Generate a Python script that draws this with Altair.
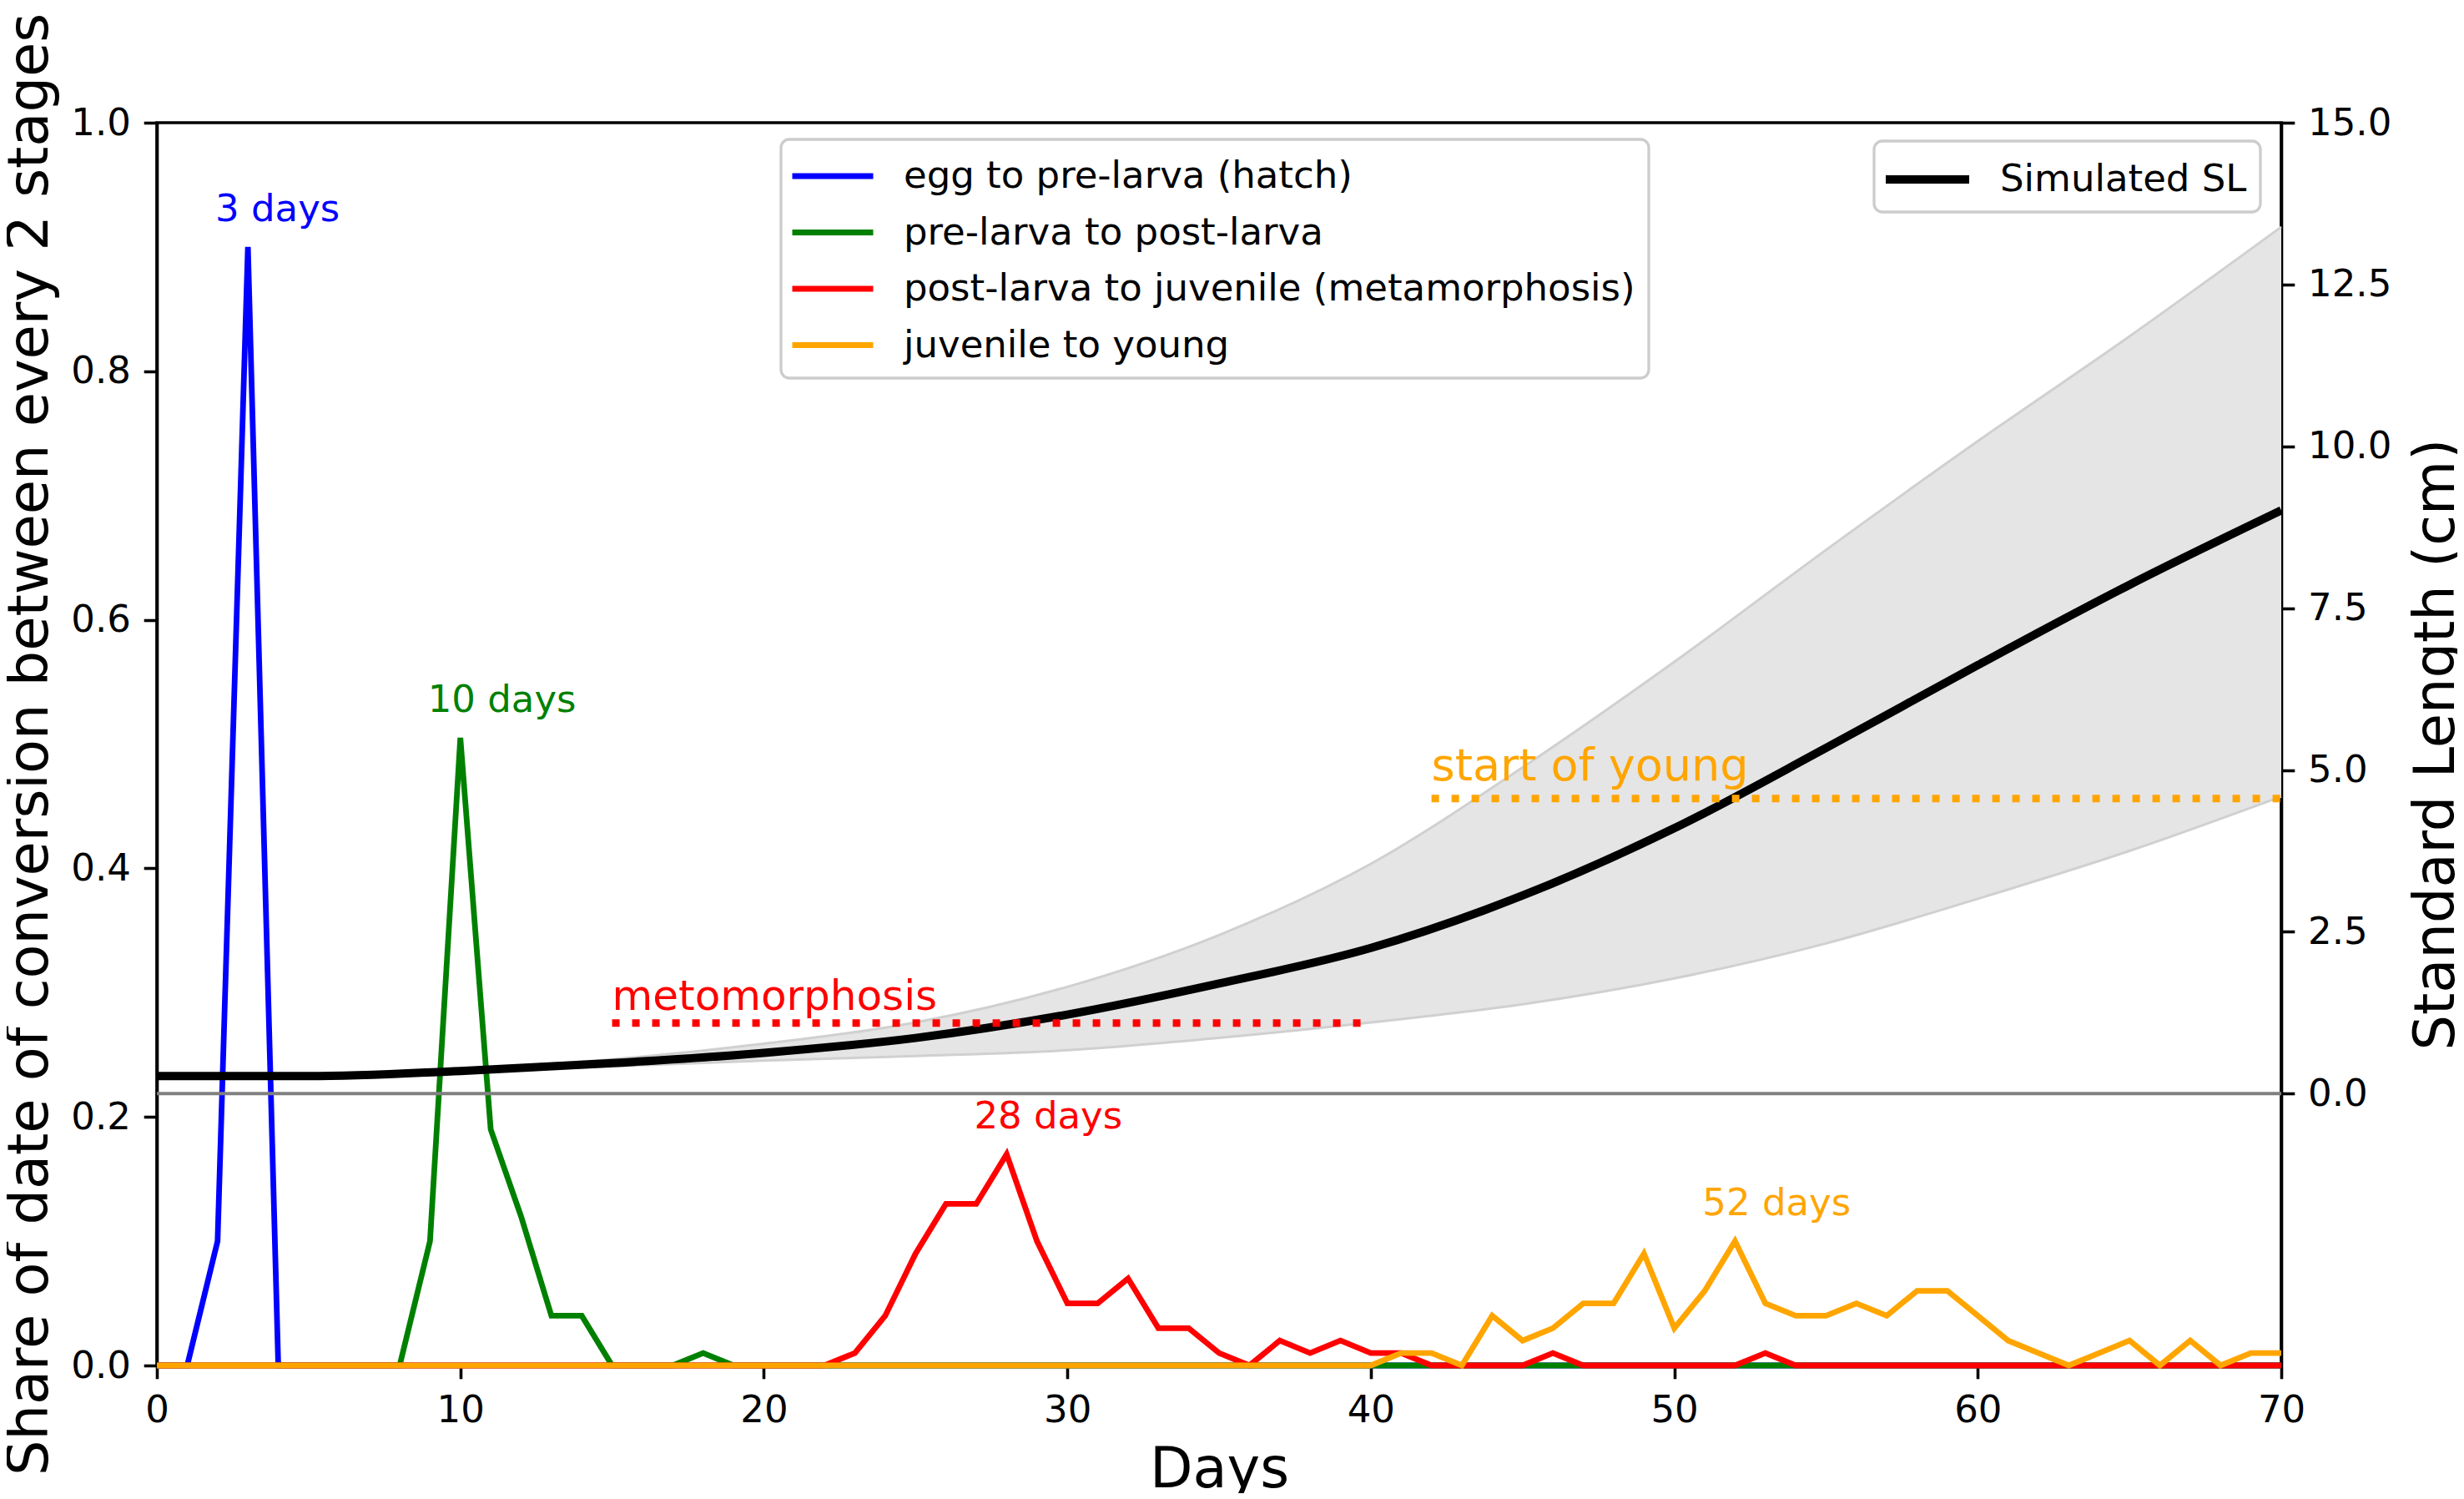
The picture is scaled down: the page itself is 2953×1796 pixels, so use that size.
import altair as alt
import pandas as pd

# ---------------- data ----------------
days = list(range(71))

egg_to_prelarva = [
    0, 0, 0.10, 0.90, 0, 0, 0, 0, 0, 0,
    0, 0, 0, 0, 0, 0, 0, 0, 0, 0,
    0, 0, 0, 0, 0, 0, 0, 0, 0, 0,
    0, 0, 0, 0, 0, 0, 0, 0, 0, 0,
    0, 0, 0, 0, 0, 0, 0, 0, 0, 0,
    0, 0, 0, 0, 0, 0, 0, 0, 0, 0,
    0, 0, 0, 0, 0, 0, 0, 0, 0, 0,
    0]
prelarva_to_postlarva = [
    0, 0, 0, 0, 0, 0, 0, 0, 0, 0.10,
    0.505, 0.19, 0.12, 0.04, 0.04, 0, 0, 0, 0.01, 0,
    0, 0, 0, 0, 0, 0, 0, 0, 0, 0,
    0, 0, 0, 0, 0, 0, 0, 0, 0, 0,
    0, 0, 0, 0, 0, 0, 0, 0, 0, 0,
    0, 0, 0, 0, 0, 0, 0, 0, 0, 0,
    0, 0, 0, 0, 0, 0, 0, 0, 0, 0,
    0]
postlarva_to_juvenile = [
    0, 0, 0, 0, 0, 0, 0, 0, 0, 0,
    0, 0, 0, 0, 0, 0, 0, 0, 0, 0,
    0, 0, 0, 0.01, 0.04, 0.09, 0.13, 0.13, 0.17, 0.10,
    0.05, 0.05, 0.07, 0.03, 0.03, 0.01, 0, 0.02, 0.01, 0.02,
    0.01, 0.01, 0, 0, 0, 0, 0.01, 0, 0, 0,
    0, 0, 0, 0.01, 0, 0, 0, 0, 0, 0,
    0, 0, 0, 0, 0, 0, 0, 0, 0, 0,
    0]
juvenile_to_young = [
    0, 0, 0, 0, 0, 0, 0, 0, 0, 0,
    0, 0, 0, 0, 0, 0, 0, 0, 0, 0,
    0, 0, 0, 0, 0, 0, 0, 0, 0, 0,
    0, 0, 0, 0, 0, 0, 0, 0, 0, 0,
    0, 0.01, 0.01, 0, 0.04, 0.02, 0.03, 0.05, 0.05, 0.09,
    0.03, 0.06, 0.10, 0.05, 0.04, 0.04, 0.05, 0.04, 0.06, 0.06,
    0.04, 0.02, 0.01, 0, 0.01, 0.02, 0, 0.02, 0, 0.01,
    0.01]

stage_names = ["egg to pre-larva (hatch)", "pre-larva to post-larva",
               "post-larva to juvenile (metamorphosis)", "juvenile to young"]
stage_colors = ["#0000ff", "#008000", "#ff0000", "#ffa500"]
stage_series = [egg_to_prelarva, prelarva_to_postlarva,
                postlarva_to_juvenile, juvenile_to_young]

peak_days = [3, 10, 28, 52]
peak_shares = [0.90, 0.505, 0.17, 0.10]
peak_labels = ["3 days", "10 days", "28 days", "52 days"]

sl_days = [0, 5, 10, 15, 20, 25, 30, 35, 40, 45, 50, 55, 60, 65, 70]
sl_mean = [0.27, 0.27, 0.35, 0.47, 0.63, 0.86, 1.22, 1.70, 2.25, 3.06, 4.10, 5.34, 6.62, 7.86, 9.01]
sl_upper = [0.27, 0.27, 0.38, 0.53, 0.77, 1.10, 1.65, 2.45, 3.55, 5.04, 6.67, 8.40, 10.08, 11.70, 13.39]
sl_lower = [0.27, 0.27, 0.33, 0.42, 0.51, 0.58, 0.67, 0.86, 1.10, 1.38, 1.78, 2.32, 3.01, 3.75, 4.59]

mark_names = ["metomorphosis", "start of young"]
mark_start = [15, 42]
mark_end = [40, 70]
mark_sl = [1.09, 4.56]
mark_colors = ["#ff0000", "#ffa500"]

sl_series_name = "Simulated SL"

# ---------------- tables ----------------
stage_rows = []
for name, series in zip(stage_names, stage_series):
    for d, v in zip(days, series):
        stage_rows.append({"day": d, "share": v, "stage": name})
stage_df = pd.DataFrame(stage_rows)

peak_df = pd.DataFrame({"day": peak_days, "share": peak_shares,
                        "label": peak_labels, "color": stage_colors})

sl_df = pd.DataFrame({"day": sl_days, "mean": sl_mean, "upper": sl_upper,
                      "lower": sl_lower, "series": sl_series_name})

mark_df = pd.DataFrame({"name": mark_names, "start": mark_start, "end": mark_end,
                        "sl": mark_sl, "color": mark_colors})
zero_df = pd.DataFrame({"zero": [0.0]})

FONT = "DejaVu Sans"

x_scale = alt.Scale(domain=[0, 70], nice=False, zero=False)
x_axis = alt.Axis(values=[0, 10, 20, 30, 40, 50, 60, 70], format="d", title="Days",
                  labelFlush=False, titleY=145, titleBaseline="alphabetic")

share_scale = alt.Scale(domain=[0, 1], nice=False)
share_axis = alt.Axis(values=[0, 0.2, 0.4, 0.6, 0.8, 1.0], format=".1f",
                      title="Share of date of conversion between every 2 stages",
                      titleX=-132, titleAngle=270, titleBaseline="alphabetic")

sl_scale = alt.Scale(domain=[-4.2, 15], nice=False, zero=False)
sl_axis = alt.Axis(orient="right", values=[0, 2.5, 5, 7.5, 10, 12.5, 15], format=".1f",
                   title="Standard Length (cm)", titleX=206, titleAngle=270,
                   titleBaseline="alphabetic")

legend_common = dict(orient="none", title=None, symbolType="M-2,0H2",
                     labelFontSize=45, labelLimit=3000, padding=16,
                     strokeColor="#cccccc", fillColor="white", cornerRadius=10,
                     symbolOffset=18, labelOffset=57)

# ---------------- left axis layers ----------------
stage_lines = alt.Chart(stage_df).mark_line(strokeWidth=6.8).encode(
    x=alt.X("day:Q", scale=x_scale, axis=x_axis),
    y=alt.Y("share:Q", scale=share_scale, axis=share_axis),
    color=alt.Color("stage:N", scale=alt.Scale(domain=stage_names, range=stage_colors),
                    sort=stage_names,
                    legend=alt.Legend(legendX=748, legendY=20, symbolSize=2352,
                                      symbolStrokeWidth=6.8, rowPadding=16.5,
                                      **legend_common)),
)

peak_text = alt.Chart(peak_df).mark_text(align="left", baseline="alphabetic",
                                         dx=-39, dy=-31, fontSize=45, font=FONT).encode(
    x=alt.X("day:Q", scale=x_scale, axis=x_axis),
    y=alt.Y("share:Q", scale=share_scale, axis=share_axis),
    text="label:N",
    fill=alt.Fill("color:N", scale=None),
)

left = alt.layer(stage_lines, peak_text)

# ---------------- right axis layers ----------------
band = alt.Chart(sl_df).mark_area(color="#e5e5e5", interpolate="monotone").encode(
    x=alt.X("day:Q", scale=x_scale, axis=x_axis),
    y=alt.Y("lower:Q", scale=sl_scale, axis=sl_axis),
    y2="upper:Q",
)
band_low = alt.Chart(sl_df).mark_line(color="#d0d0d0", strokeWidth=3,
                                      interpolate="monotone").encode(
    x=alt.X("day:Q", scale=x_scale, axis=x_axis),
    y=alt.Y("lower:Q", scale=sl_scale, axis=sl_axis),
)
band_up = alt.Chart(sl_df).mark_line(color="#d0d0d0", strokeWidth=3,
                                     interpolate="monotone").encode(
    x=alt.X("day:Q", scale=x_scale, axis=x_axis),
    y=alt.Y("upper:Q", scale=sl_scale, axis=sl_axis),
)
sl_line = alt.Chart(sl_df).mark_line(strokeWidth=10, interpolate="monotone").encode(
    x=alt.X("day:Q", scale=x_scale, axis=x_axis),
    y=alt.Y("mean:Q", scale=sl_scale, axis=sl_axis),
    color=alt.Color("series:N", scale=alt.Scale(domain=[sl_series_name], range=["black"]),
                    legend=alt.Legend(legendX=2058, legendY=22, symbolSize=2500,
                                      symbolStrokeWidth=10, **legend_common)),
)
zero_rule = alt.Chart(zero_df).mark_rule(color="#808080", strokeWidth=4).encode(
    y=alt.Y("zero:Q", scale=sl_scale, axis=sl_axis),
)
mark_rules = alt.Chart(mark_df).mark_rule(strokeWidth=9, strokeDash=[9, 15]).encode(
    x=alt.X("start:Q", scale=x_scale, axis=x_axis),
    x2="end:Q",
    y=alt.Y("sl:Q", scale=sl_scale, axis=sl_axis),
    stroke=alt.Stroke("color:N", scale=None),
)
meta_text = alt.Chart(mark_df).transform_filter(
    alt.datum.name == mark_names[0]
).mark_text(align="left", baseline="alphabetic", dy=-16, fontSize=50, font=FONT).encode(
    x=alt.X("start:Q", scale=x_scale, axis=x_axis),
    y=alt.Y("sl:Q", scale=sl_scale, axis=sl_axis),
    text="name:N",
    fill=alt.Fill("color:N", scale=None),
)
young_text = alt.Chart(mark_df).transform_filter(
    alt.datum.name == mark_names[1]
).mark_text(align="left", baseline="alphabetic", dy=-22, fontSize=54, font=FONT).encode(
    x=alt.X("start:Q", scale=x_scale, axis=x_axis),
    y=alt.Y("sl:Q", scale=sl_scale, axis=sl_axis),
    text="name:N",
    fill=alt.Fill("color:N", scale=None),
)

right = alt.layer(band, band_low, band_up, sl_line, zero_rule, mark_rules,
                  meta_text, young_text)

chart = alt.layer(left, right).resolve_scale(
    y="independent", color="independent"
).properties(
    width=2546, height=1489,
    autosize=alt.AutoSizeParams(type="none"),
    padding={"left": 180, "top": 139, "right": 211, "bottom": 153},
).configure(
    font=FONT, background="white"
).configure_view(
    stroke="black", strokeWidth=3.6
).configure_axis(
    domainColor="black", domainWidth=3.6, tickColor="black", tickWidth=3.6,
    tickSize=15.8, labelPadding=15.8, labelFontSize=45, labelColor="black",
    labelFont=FONT, titleFont=FONT, titleFontSize=67, titleFontWeight="normal",
    titleColor="black", grid=False, labelOverlap=False
).configure_legend(
    strokeWidth=3.3, labelFont=FONT, labelColor="black"
)

chart.save("out.html", embed_options={"renderer": "svg", "actions": False})
